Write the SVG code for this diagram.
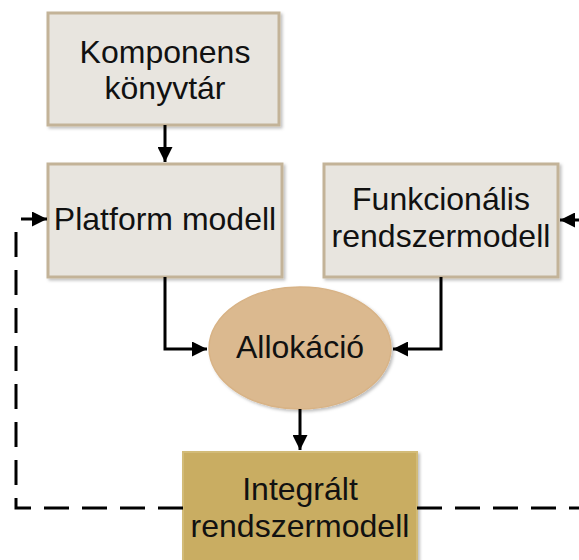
<svg xmlns="http://www.w3.org/2000/svg" width="579" height="560" viewBox="0 0 579 560">
<defs>
<marker id="ah" viewBox="0 0 10 10" refX="10" refY="5" markerWidth="5" markerHeight="5" orient="auto" markerUnits="strokeWidth"><path d="M0,0 L10,5 L0,10 z" fill="#000"/></marker>
<filter id="sh" x="-5%" y="-5%" width="115%" height="115%"><feDropShadow dx="2" dy="2" stdDeviation="1.5" flood-color="#000" flood-opacity="0.25"/></filter>
</defs>
<style>
.box{fill:#e8e5df;stroke:#c3b398;stroke-width:3;filter:url(#sh)}
.t{font-family:"Liberation Sans",Arial,sans-serif;font-size:32px;fill:#111;text-anchor:middle}
.c{fill:none;stroke:#000;stroke-width:3}
.d{fill:none;stroke:#000;stroke-width:3;stroke-dasharray:25 13}
</style>
<g id="komponens">
<rect class="box" x="48" y="13" width="231" height="112"/>
<text class="t" x="165" y="63">Komponens</text>
<text class="t" x="165" y="99">könyvtár</text>
</g>
<g id="platform">
<rect class="box" x="48" y="164" width="234" height="113"/>
<text class="t" x="165" y="230">Platform modell</text>
</g>
<g id="funkcionalis">
<rect class="box" x="324" y="164" width="234" height="113"/>
<text class="t" x="441" y="210">Funkcionális</text>
<text class="t" x="441" y="247">rendszermodell</text>
</g>
<g id="allokacio">
<ellipse cx="300" cy="348" rx="91" ry="61" fill="#dbb98f" stroke="#d8b386" stroke-width="1.5" filter="url(#sh)"/>
<text class="t" x="300" y="358">Allokáció</text>
</g>
<g id="integralt">
<rect x="183" y="452" width="234" height="120" fill="#c9ad62" stroke="#d2bb78" stroke-width="2" filter="url(#sh)"/>
<text class="t" x="300" y="500">Integrált</text>
<text class="t" x="300" y="537">rendszermodell</text>
</g>
<g id="connectors">
<path class="c" d="M165,125 V162" marker-end="url(#ah)"/>
<path class="c" d="M165,277 V349 H207" marker-end="url(#ah)"/>
<path class="c" d="M441,277 V349 H393" marker-end="url(#ah)"/>
<path class="c" d="M300,409 V450" marker-end="url(#ah)"/>
<path class="d" d="M183,508 H16 V229"/>
<path class="c" d="M21,219 H47" marker-end="url(#ah)"/>
<path class="d" d="M417,508 H579"/>
<path class="c" d="M579,220 H560" marker-end="url(#ah)"/>
</g>
</svg>
